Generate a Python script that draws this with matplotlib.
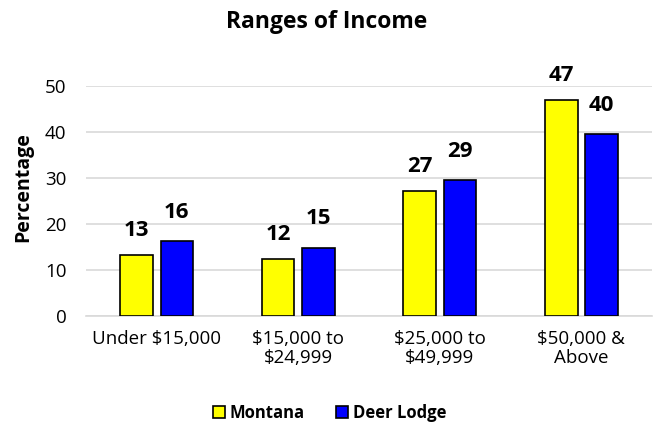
import numpy as np
import matplotlib
matplotlib.use("Agg")
import matplotlib.pyplot as plt

plt.rcParams["font.family"] = ["Open Sans", "DejaVu Sans"]

# Chart data
#
categories = ["Under $15,000", "$15,000 to\n$24,999", "$25,000 to\n$49,999", "$50,000 &\nAbove"]
montana = [13.3, 12.5, 27.1, 47.0]
deer_lodge = [16.2, 14.8, 29.5, 39.5]
montana_labels = ["13", "12", "27", "47"]
deer_lodge_labels = ["16", "15", "29", "40"]
series_names = ["Montana", "Deer Lodge"]
yticks = [0, 10, 20, 30, 40, 50]

fig = plt.figure(figsize=(6.53, 4.29), dpi=100)
ax = fig.add_axes([0.1317, 0.2634, 0.867, 0.536])

x = np.arange(len(categories))
width = 0.23
offset = 0.142

bars_m = ax.bar(x - offset, montana, width, color="#FFFF00", edgecolor="black",
                linewidth=1.2, label=series_names[0], zorder=3)
bars_d = ax.bar(x + offset, deer_lodge, width, color="#0000FF", edgecolor="black",
                linewidth=1.2, label=series_names[1], zorder=3)

# Value labels above the bars
#
for bars, labels, gap in ((bars_m, montana_labels, 10), (bars_d, deer_lodge_labels, 13.5)):
    for bar, text in zip(bars, labels):
        ax.annotate(text, (bar.get_x() + bar.get_width() / 2, bar.get_height()),
                    xytext=(0, gap), textcoords="offset points",
                    ha="center", va="bottom", fontsize=16, fontweight="bold")

ax.set_xlim(-0.5, len(categories) - 0.5)
ax.set_ylim(0, 50)
ax.set_yticks(yticks)
ax.set_xticks(x)
ax.set_xticklabels(categories, fontsize=13.5, linespacing=1.05)
ax.tick_params(axis="y", labelsize=13.5, length=0, pad=14)
ax.tick_params(axis="x", length=0, pad=10)

ax.grid(axis="y", color="#D9D9D9", linewidth=1.2, zorder=0)
for side in ("top", "right", "left"):
    ax.spines[side].set_visible(False)
ax.spines["bottom"].set_color("#D9D9D9")
ax.spines["bottom"].set_linewidth(1.2)

ax.set_ylabel("Percentage", fontsize=14, fontweight="bold")
ax.yaxis.set_label_coords(-0.094, 0.56)

fig.text(0.5, 0.949, "Ranges of Income", ha="center", va="center",
         fontsize=16.5, fontweight="bold")

fig.legend(loc="center", bbox_to_anchor=(0.505, 0.037), ncol=2, frameon=False,
           prop={"weight": "bold", "size": 12}, handlelength=0.7, handleheight=0.7,
           handletextpad=0.3, columnspacing=1.9)

fig.savefig("out.png", dpi=100, facecolor="white")
plt.close(fig)
